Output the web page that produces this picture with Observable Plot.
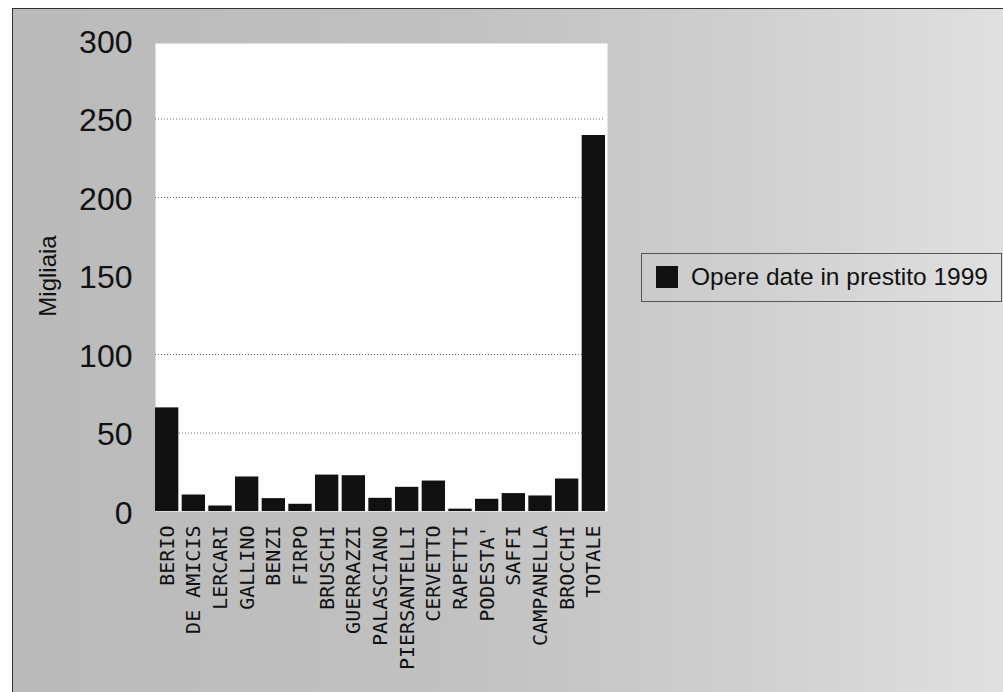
<!DOCTYPE html>
<html>
<head>
<meta charset="utf-8">
<script src="https://cdn.jsdelivr.net/npm/d3@7"></script>
<script src="https://cdn.jsdelivr.net/npm/@observablehq/plot@0.6"></script>
<style>
  html, body { margin: 0; padding: 0; background: #fff; }
  #wrap { position: relative; width: 1003px; height: 692px; overflow: hidden; background: #fff; }
  #bg { position: absolute; left: 12px; top: 8px; right: 0; bottom: 0;
        background: linear-gradient(90deg, #bababa 0%, #c1c1c1 45%, #d0d0d0 75%, #e0e0e0 100%);
        border-left: 1.5px solid #333; border-top: 1.5px solid #333; }
  #chart { position: absolute; left: 0; top: 0; }
  #legend { position: absolute; left: 641px; top: 253px; width: 361px; height: 49px; box-sizing: border-box;
            border: 1px solid #555; font-family: "Liberation Sans", Arial, sans-serif; font-size: 24.5px; color: #111; }
  #legend .sw { position: absolute; left: 14px; top: 12px; width: 22px; height: 22px; background: #111; }
  #legend .tx { position: absolute; left: 49px; top: 9px; line-height: 28px; white-space: nowrap; }
</style>
</head>
<body>
<div id="wrap">
  <div id="bg"></div>
  <div id="chart"></div>
  <div id="legend"><div class="sw"></div><div class="tx">Opere date in prestito 1999</div></div>
</div>
<script>
const categories = ["BERIO", "DE AMICIS", "LERCARI", "GALLINO", "BENZI", "FIRPO", "BRUSCHI", "GUERRAZZI",
  "PALASCIANO", "PIERSANTELLI", "CERVETTO", "RAPETTI", "PODESTA'", "SAFFI", "CAMPANELLA", "BROCCHI", "TOTALE"];
const values = [66, 10.5, 3.5, 22, 8.2, 4.6, 23.2, 22.8, 8.4, 15.4, 19.4, 1.5, 7.8, 11.4, 9.9, 20.7, 239.5];
const yTicks = [0, 50, 100, 150, 200, 250, 300];
const gridTicks = [50, 100, 200, 250];
const seriesName = "Opere date in prestito 1999";
const yLabel = "Migliaia";

const data = categories.map((c, i) => ({ name: c, value: values[i] }));

const chart = Plot.plot({
  width: 1003,
  height: 692,
  marginLeft: 155,
  marginRight: 398,
  marginTop: 40,
  marginBottom: 181,
  style: { background: "transparent", fontFamily: "'Liberation Sans', Arial, sans-serif", color: "#111" },
  x: { domain: categories, paddingInner: 0.125, paddingOuter: 0, round: false, label: null },
  y: { domain: [0, 300], label: null },
  marks: [
    Plot.frame({ fill: "white", stroke: null, insetTop: 3, insetRight: -2 }),
    Plot.gridY(gridTicks, { stroke: "#444", strokeOpacity: 1, strokeWidth: 0.8, strokeDasharray: "1,2" }),
    Plot.barY(data, { x: "name", y: "value", fill: "#111" }),
    Plot.axisY({ ticks: yTicks, tickSize: 0, tickPadding: 23, fontSize: 32, dy: 2, label: null }),
    Plot.axisX({ tickSize: 0, tickRotate: -90, tickPadding: 14, fontSize: 20,
                 fontFamily: "'DejaVu Sans Mono', monospace", label: null }),
    Plot.text([yLabel], { frameAnchor: "left", dx: -107, rotate: -90, textAnchor: "middle",
                          fontSize: 24, text: d => d, fill: "#111" })
  ]
});
document.getElementById("chart").appendChild(chart);
</script>
</body>
</html>
